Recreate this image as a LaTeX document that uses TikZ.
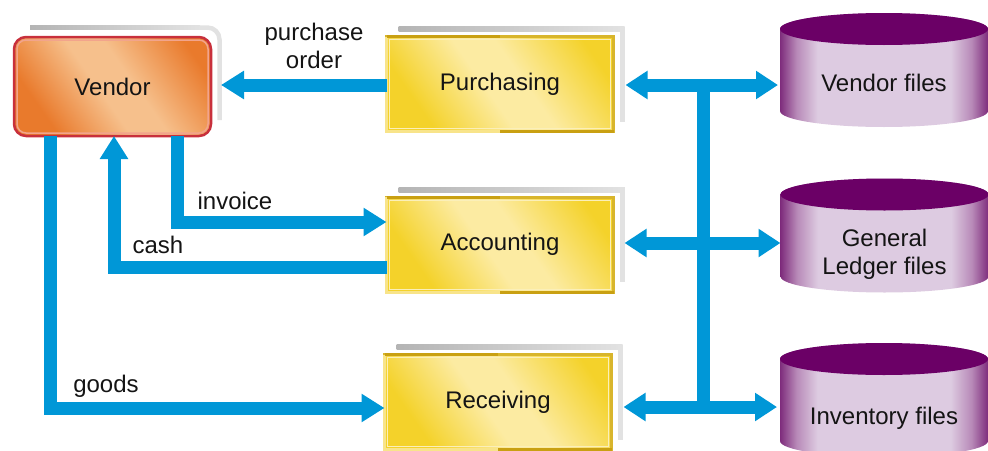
\documentclass[tikz,border=0pt]{standalone}
\usepackage{fontspec}
\setmainfont{Liberation Sans}
\usetikzlibrary{arrows.meta,calc}
\definecolor{flowblue}{HTML}{0097D7}
\definecolor{vOr}{HTML}{E97A2C}
\definecolor{vLt}{HTML}{F6C08C}
\definecolor{vRed}{HTML}{C8303C}
\definecolor{vPink}{HTML}{F2A48C}
\definecolor{yDk}{HTML}{F4D22A}
\definecolor{yLt}{HTML}{FCEBA2}
\definecolor{gold}{HTML}{D8B52C}
\definecolor{goldD}{HTML}{C9A012}
\definecolor{goldL}{HTML}{F8E48A}
\definecolor{cylTop}{HTML}{6B0066}
\definecolor{cylD}{HTML}{7E2C7C}
\definecolor{cylM}{HTML}{B88AB8}
\definecolor{cylL}{HTML}{DDCBE1}
\definecolor{frmD}{HTML}{B4B4B4}
\definecolor{frmL}{HTML}{E2E2E2}
\pgfdeclarehorizontalshading{vendsh}{100bp}{color(0bp)=(vOr); color(27bp)=(vOr); color(46bp)=(vLt); color(56bp)=(vLt); color(77bp)=(vOr); color(100bp)=(vOr)}
\pgfdeclarehorizontalshading{procsh}{100bp}{color(0bp)=(yDk); color(27bp)=(yDk); color(46bp)=(yLt); color(56bp)=(yLt); color(77bp)=(yDk); color(100bp)=(yDk)}
\pgfdeclarehorizontalshading{cylsh}{100bp}{color(0bp)=(cylD); color(25bp)=(cylD); color(29bp)=(cylM); color(34bp)=(cylL); color(66bp)=(cylL); color(71bp)=(cylM); color(75bp)=(cylD); color(100bp)=(cylD)}
\newcommand\ProcDeco[1]{%
  \shade[left color=frmD, right color=frmL] ($(#1.north west)+(12,-10)$) rectangle ($(#1.north east)+(11,-5)$);
  \fill[frmL] ($(#1.north east)+(6,-10)$) rectangle ($(#1.south east)+(11,-10)$);
  \draw[goldL, line width=3pt] (#1.north west) -- (#1.south west) -- (#1.south);
  \draw[goldD, line width=3pt] (#1.north west) -- (#1.north);
  \draw[goldD, line width=3pt] (#1.south) -- (#1.south east);
  \draw[goldL!60!white, line width=1pt] ($(#1.north west)+(3,3)$) rectangle ($(#1.south east)+(-3,-3)$);
}
\newcommand\CylDeco[1]{%
  \path[shade, shading=cylsh] ($(#1.north west)+(0,16)$) -- ($(#1.south west)+(0,-16)$)
    arc[start angle=180, end angle=0, x radius=104, y radius=16]
    -- ($(#1.north east)+(0,16)$)
    arc[start angle=0, end angle=-180, x radius=104, y radius=16] -- cycle;
  \fill[cylTop] ($(#1.north)+(0,16)$) ellipse[x radius=104, y radius=16];
}
\begin{document}
\begin{tikzpicture}[x=1pt,y=-1pt,
  txt/.style={font=\fontsize{24}{28}\selectfont, text=black!92, align=center, inner sep=0pt},
  vendorbox/.style={txt, rounded corners=12pt, minimum width=197pt, minimum height=99pt,
    shade, shading=vendsh, shading angle=35, draw=vRed, line width=2.5pt, outer sep=0pt},
  proc/.style={txt, minimum width=227pt, minimum height=95pt, shade, shading=procsh,
    shading angle=35, draw=gold, line width=3pt, outer sep=0pt},
  store/.style={minimum width=208pt, minimum height=114pt, inner sep=0pt, outer sep=0pt},
  flow/.style={draw=flowblue, line width=13pt, line join=miter, line cap=butt},
  flowarr/.style={flow, -{Triangle[length=23pt,width=27pt]}},
  flowdbl/.style={flow, {Triangle[length=22pt,width=27pt]}-{Triangle[length=22pt,width=27pt]}},
  lbl/.style={txt}
]
\useasboundingbox (0,0) rectangle (988,450);

% vendor frame (gray)
\draw[frmL, line width=4.5pt, rounded corners=12pt] (30,27.5) -- (219.5,27.5) -- (219.5,120);
\shade[left color=frmD, right color=frmL] (30,25.3) rectangle (200,29.7);

\node[vendorbox] (vendor) at (112.5,86.5) {Vendor};
\draw[vPink, line width=1.5pt, rounded corners=9pt] ($(vendor.north west)+(3,3)$) rectangle ($(vendor.south east)+(-3,-3)$);

\node[proc] (purch) at (500,84) {Purchasing};
\ProcDeco{purch}
\node[proc] (acct) at (500,244.5) {Accounting};
\ProcDeco{acct}
\node[proc] (recv) at (498,402) {Receiving};
\ProcDeco{recv}

\node[store] (vf) at (884,70) {};
\CylDeco{vf}
\node[txt] (vft) at ($(vf.center)+(0,13)$) {Vendor files};
\node[store] (gl) at (884.5,235.5) {};
\CylDeco{gl}
\node[txt] (glt) at ($(gl.center)+(0,18.5)$) {General\\Ledger files};
\node[store] (inv) at (884,400) {};
\CylDeco{inv}
\node[txt] (invt) at ($(inv.center)+(0,18)$) {Inventory files};

% left connectors
\draw[flowarr, shorten >=10pt] ($(purch.west)+(0,1)$) -- ($(purch.west -| vendor.east)+(0,1)$);
\coordinate (gs) at ($(vendor.south west)+(36,0)$);
\draw[flowarr] (gs) |- ($(recv.west)+(0,6)$);
\coordinate (is) at ($(vendor.south west)+(163,0)$);
\draw[flowarr] (is) |- ($(acct.west)+(0,-22.5)$);
\coordinate (cs) at ($(vendor.south west)+(100,0)$);
\draw[flowarr] ($(acct.west)+(0,22.5)$) -| (cs);

\node[lbl] (lpo) at (314,46) {purchase\\order};
\node[lbl] (linv) at (235,201) {invoice};
\node[lbl] (lcash) at (158,245) {cash};
\node[lbl] (lgoods) at (106,386) {goods};

% right connectors
\coordinate (bustop) at (703,85);
\coordinate (busbot) at (703,407);
\draw[flow] (bustop) -- (busbot);
\draw[flowdbl, shorten <=12pt, shorten >=2pt] ($(purch.east)+(0,1)$) -- ($(purch.east -| vf.west)+(0,1)$);
\draw[flowdbl, shorten <=11pt] ($(acct.east)+(0,-1.5)$) -- ($(acct.east -| gl.west)+(0,-1.5)$);
\draw[flowdbl, shorten <=12pt, shorten >=3pt] ($(recv.east)+(0,5)$) -- ($(recv.east -| inv.west)+(0,5)$);
\end{tikzpicture}
\end{document}
